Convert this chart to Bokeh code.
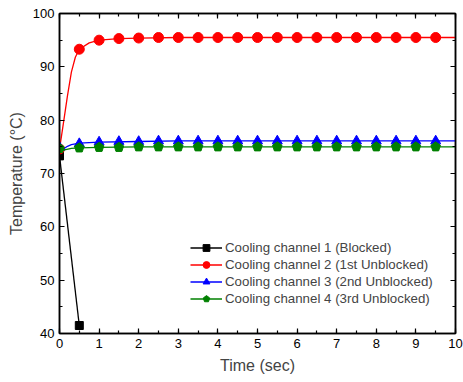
from bokeh.plotting import figure
from bokeh.models import (LinearAxis, SingleIntervalTicker, Range1d, Legend, LegendItem,
                          CustomLabelingPolicy)
from bokeh.embed import file_html
from bokeh.resources import INLINE

# Marker data
t = [0, 0.5, 1, 1.5, 2, 2.5, 3, 3.5, 4, 4.5, 5, 5.5, 6, 6.5, 7, 7.5, 8, 8.5, 9, 9.5]
ch1_t = [0, 0.5]
ch1 = [73.3, 41.5]
ch2 = [74.6, 93.3, 95.0, 95.3, 95.4, 95.5, 95.5, 95.5, 95.5, 95.5,
       95.5, 95.5, 95.5, 95.5, 95.5, 95.5, 95.5, 95.5, 95.5, 95.5]
ch3 = [74.9, 75.6, 75.9, 76.0, 76.0, 76.1, 76.1, 76.1, 76.1, 76.1,
       76.1, 76.1, 76.1, 76.1, 76.1, 76.1, 76.1, 76.1, 76.1, 76.1]
ch4 = [74.7, 74.8, 74.9, 74.9, 75.0, 75.0, 75.0, 75.0, 75.0, 75.0,
       75.0, 75.0, 75.0, 75.0, 75.0, 75.0, 75.0, 75.0, 75.0, 75.0]

# Smooth curves
ch1_line_t = [0, 0.5]
ch1_line = [73.3, 41.5]
ch2_line_t = [0, 0.05, 0.1, 0.2, 0.3, 0.4, 0.5, 0.75, 1, 1.5, 2, 3, 10]
ch2_line = [74.6, 77.0, 79.5, 84.5, 89.0, 91.8, 93.3, 94.5, 95.0, 95.3, 95.4, 95.5, 95.5]
ch3_line_t = [0, 0.1, 0.2, 0.3, 0.5, 1, 2, 3, 10]
ch3_line = [74.9, 74.6, 75.1, 75.4, 75.7, 75.9, 76.0, 76.1, 76.1]
ch4_line_t = [0, 0.1, 0.3, 0.5, 1, 2, 10]
ch4_line = [74.7, 74.4, 74.7, 74.8, 74.9, 75.0, 75.0]

labels = ["Cooling channel 1 (Blocked)", "Cooling channel 2 (1st Unblocked)",
          "Cooling channel 3 (2nd Unblocked)", "Cooling channel 4 (3rd Unblocked)"]

FONT = "Liberation Sans"

p = figure(width=463, height=382, output_backend="svg", toolbar_location=None,
           x_range=Range1d(0, 10), y_range=Range1d(40, 100),
           x_axis_type=None, y_axis_type=None,
           min_border_left=59, min_border_right=8, min_border_top=13, min_border_bottom=49)
p.xgrid.visible = False
p.ygrid.visible = False
p.outline_line_color = "black"
p.outline_line_width = 1.5
p.background_fill_color = "white"
p.border_fill_color = "white"

def make_axis(kind, show_labels):
    if kind == "x":
        tk = SingleIntervalTicker(interval=1, num_minor_ticks=2)
    else:
        tk = SingleIntervalTicker(interval=10, num_minor_ticks=2)
    ax = LinearAxis(ticker=tk)
    ax.axis_line_color = "black"
    ax.axis_line_width = 1.5
    ax.major_tick_in = 5
    ax.major_tick_out = 0
    ax.minor_tick_in = 3
    ax.minor_tick_out = 0
    ax.major_tick_line_color = "black"
    ax.minor_tick_line_color = "black"
    ax.major_tick_line_width = 1.2
    ax.minor_tick_line_width = 1.2
    ax.major_label_text_font = FONT
    ax.major_label_text_color = "black"
    if show_labels:
        ax.major_label_text_font_size = "13px"
        ax.major_label_standoff = 5
    else:
        ax.major_label_text_font_size = "0px"
        ax.major_label_standoff = 0
        ax.major_label_policy = CustomLabelingPolicy(
            code="for (const i of indices) { indices.unset(i) }\nreturn indices")
    return ax

xb = make_axis("x", True)
xb.axis_label = "Time (sec)"
xb.axis_label_text_font = FONT
xb.axis_label_text_font_size = "16px"
xb.axis_label_text_font_style = "normal"
xb.axis_label_standoff = 6
p.add_layout(xb, "below")

yl = make_axis("y", True)
yl.axis_label = "Temperature (°C)"
yl.axis_label_text_font = FONT
yl.axis_label_text_font_size = "16px"
yl.axis_label_text_font_style = "normal"
yl.axis_label_standoff = 5
p.add_layout(yl, "left")

p.add_layout(make_axis("x", False), "above")
p.add_layout(make_axis("y", False), "right")

# Series
l1 = p.line(ch1_line_t, ch1_line, line_color="black", line_width=1.3)
m1 = p.scatter(ch1_t, ch1, marker="square", size=8, fill_color="black", line_color="black")
l2 = p.line(ch2_line_t, ch2_line, line_color="#ff0000", line_width=1.3)
m2 = p.scatter(t, ch2, marker="circle", size=10, fill_color="#ff0000", line_color="#ff0000")
l3 = p.line(ch3_line_t, ch3_line, line_color="#0000ff", line_width=1.3)
m3 = p.scatter(t, ch3, marker="triangle", size=10, fill_color="#0000ff", line_color="#0000ff")
l4 = p.line(ch4_line_t, ch4_line, line_color="#008000", line_width=1.3)
m4 = p.ngon(x=t, y=ch4, radius=5, n=5, radius_units="screen",
            fill_color="#008000", line_color="#008000")

legend = Legend(items=[LegendItem(label=labels[0], renderers=[l1, m1]),
                       LegendItem(label=labels[1], renderers=[l2, m2]),
                       LegendItem(label=labels[2], renderers=[l3, m3]),
                       LegendItem(label=labels[3], renderers=[l4, m4])],
                location=(131, 26), padding=0, spacing=0, margin=0,
                glyph_width=32, glyph_height=17, label_height=17,
                label_standoff=3, label_text_font=FONT, label_text_font_size="13.3px",
                border_line_alpha=0, background_fill_alpha=0)
p.add_layout(legend, "center")

open("out.html", "w").write(file_html(p, INLINE))
